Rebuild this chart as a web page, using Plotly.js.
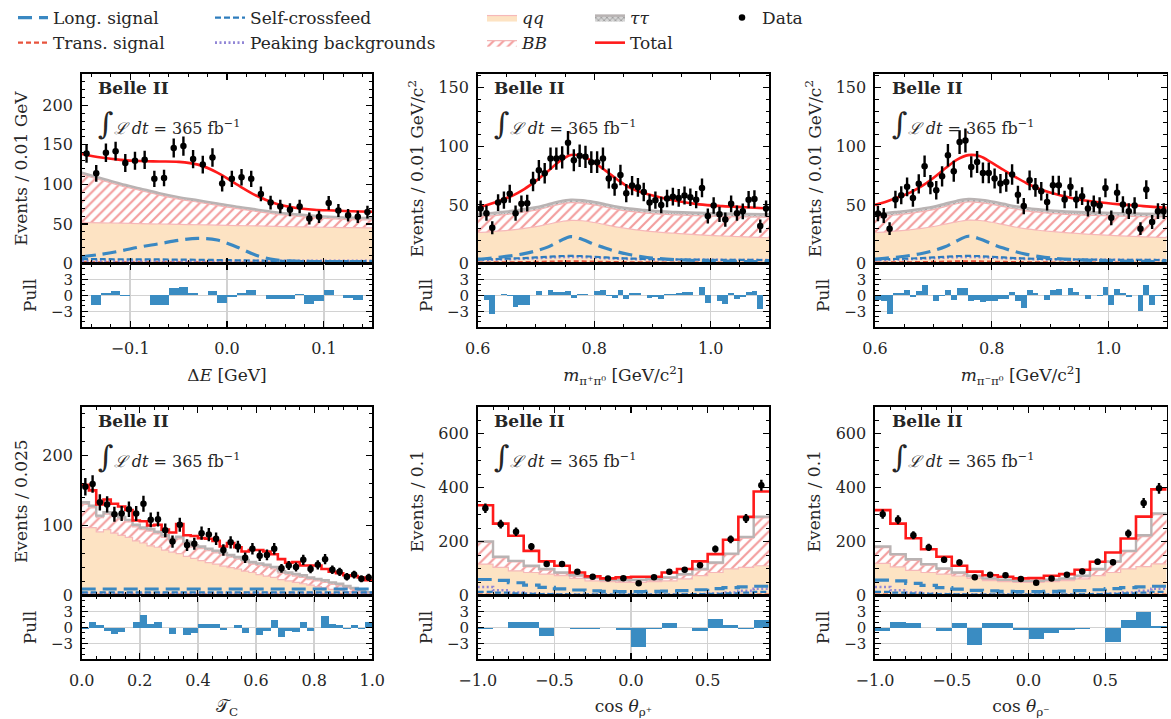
<!DOCTYPE html>
<html><head><meta charset="utf-8">
<script src="https://cdn.plot.ly/plotly-3.0.1.min.js"></script>
<style>body{margin:0;background:#fff}#chart{width:1171px;height:719px}</style>
</head><body><div id="chart"></div>
<script>
// ================= DATA =================
// Panel 1: Delta E (30 bins of 0.01 GeV)
const dE_centers = [-0.145,-0.135,-0.125,-0.115,-0.105,-0.095,-0.085,-0.075,-0.065,-0.055,-0.045,-0.035,-0.025,-0.015,-0.005,0.005,0.015,0.025,0.035,0.045,0.055,0.065,0.075,0.085,0.095,0.105,0.115,0.125,0.135,0.145];
const dE_data = [139,114,140,142,127,130,131,107,108,146,148.5,132,125,134,101,107,109,107,88,77,72,68,72,57,59,76.5,67,61,59,65];
const dE_pull = [0.05,-1.9,0.5,0.8,-0.2,0.05,0.15,-1.9,-1.9,1.4,1.6,0.5,0.0,0.9,-1.5,-0.3,0.45,0.95,0.0,-0.6,-0.75,-0.75,0.2,-1.7,-1.1,0.95,0.1,-0.5,-0.9,0.0];
const dE_curveX = [-0.15,-0.13,-0.11,-0.09,-0.07,-0.05,-0.03,-0.01,0.01,0.03,0.05,0.07,0.09,0.11,0.13,0.15];
const dE_total = [138.5,134,131,129.5,129,128.5,125,115,100,86,76,70.5,68,67,66,65.5];
const dE_ttTop = [115,108,101,95,89,84,80,76,72,68.5,65,62.5,60.5,59,58,57.5];
const dE_bbTop = [112.5,105.5,98.5,92.5,86.5,81.5,77.5,73.5,69.5,66,62.5,60,58,56.5,55.5,55];
const dE_qqTop = [52,51.5,51,50.5,50,49.5,49,48.5,48,47.5,47,46.5,46,45.7,45.3,45];
const dE_long = [8.4,11.7,15.9,21,25,29.3,31.8,29.7,21,10.5,4.6,3,2.6,2.5,2.5,2.5];
const dE_scf = [5.5,5.5,5.4,5.3,5.2,5,4.8,4.5,4.1,3.7,3.4,3.2,3.1,3,3,3];
const dE_peak = [3.6,3.6,3.6,3.6,3.6,3.6,3.5,3.5,3.5,3.5,3.4,3.4,3.4,3.4,3.4,3.4];
const dE_trans = [1.4,1.4,1.4,1.4,1.4,1.4,1.4,1.3,1.3,1.3,1.2,1.2,1.2,1.2,1.2,1.2];

// Panel 2: m(pi+ pi0) (50 bins of 0.01 GeV/c^2)
const mP_centers = [0.605,0.615,0.625,0.635,0.645,0.655,0.665,0.675,0.685,0.695,0.705,0.715,0.725,0.735,0.745,0.755,0.765,0.775,0.785,0.795,0.805,0.815,0.825,0.835,0.845,0.855,0.865,0.875,0.885,0.895,0.905,0.915,0.925,0.935,0.945,0.955,0.965,0.975,0.985,0.995,1.005,1.015,1.025,1.035,1.045,1.055,1.065,1.075,1.085,1.095];
const mP_data = [47,43,30.5,52,54,59.5,43,51,51.5,70,79.5,77,89.5,89.5,90.5,103,88,92,91,86.5,86.5,89.5,72.5,66,75.5,60,66.5,65,61,52,54,50,55.5,57,56,58,56.5,54.5,64.5,40.5,49.5,42,37.5,51,43,44.5,54.5,55,32,47];
const mP_pull = [-0.1,-0.9,-3.6,0.1,0.2,-0.1,-2.1,-1.9,-1.75,0.0,0.75,0.0,0.95,0.6,0.6,0.9,-0.5,0.2,0.2,0.0,0.75,1.1,-0.2,-0.5,0.95,-0.75,0.45,0.45,0.0,-0.5,-0.4,-0.75,0.2,0.3,0.45,0.55,0.55,0.0,1.5,-1.4,0.0,-1.1,-1.7,0.5,-0.75,-0.4,0.6,0.9,-2.5,0.0];
const m_curveX = [0.6,0.62,0.64,0.66,0.68,0.70,0.72,0.74,0.76,0.78,0.80,0.82,0.84,0.86,0.88,0.90,0.94,0.98,1.02,1.06,1.10];
const mP_total = [47.5,50.5,54,58,63.5,70.5,78.5,87,92.5,91.5,86,79,71.5,65,61,58,53.5,50.5,49,48,47];
const mP_ttTop = [42.5,43,44,45,46.5,48,50.5,53,54.5,54,52.5,50.5,48.5,47,46,45,44,43.3,42.7,42.3,42];
const mP_bbTop = [40,40.5,41.5,42.5,44,45.5,48,50.5,52,51.5,50,48,46,44.5,43.5,42.5,41.5,40.8,40.2,39.8,39.5];
const mP_qqTop = [26.5,27,27.8,28.8,30,31.5,33.5,35.5,36.8,36.5,35,33,31,29.5,28.3,27.3,25.8,24.5,23.5,22.7,22];
const mP_long = [3.7,4.5,5.5,6.8,8.5,10.8,14,19,23,20.5,16.4,13,10,7.7,6,4.7,3.3,2.5,2,1.7,1.5];
const mP_scf = [3.5,3.7,4,4.3,4.7,5.2,5.8,6.3,6.5,6.3,5.8,5.2,4.7,4.3,4,3.8,3.5,3.3,3.2,3.1,3];
const mP_peak = [3,3.2,3.5,3.8,4.2,4.6,5.1,5.5,5.7,5.5,5.1,4.6,4.2,3.9,3.7,3.5,3.3,3.2,3.1,3,3];
const mP_trans = [0.8,0.9,1,1.1,1.2,1.4,1.6,1.8,1.9,1.8,1.6,1.4,1.2,1.1,1,0.9,0.8,0.8,0.7,0.7,0.7];

// Panel 3: m(pi- pi0)
const mM_centers = mP_centers;
const mM_data = [42.7,41,29.7,54.6,58.3,65.4,56,68,83,67.4,62.5,74.4,92.3,78.7,103.6,105,82.4,86.6,77.3,77.3,72.5,68.2,69.6,75.9,58.6,49,71,65,61.7,52.4,66.8,66.8,54.6,65.4,54.6,57.5,47,51,49.5,64.5,39,60.3,50.4,44.7,49.5,29.7,63.1,35.4,44.7,44.7];
const mM_pull = [-0.9,-1.1,-3.6,0.45,0.45,1.1,-0.3,0.75,1.9,0.0,-1.0,-0.2,1.1,-0.8,1.4,1.4,-1.1,-0.9,-1.25,-1.1,-1.1,-0.75,-0.6,0.6,-1.1,-2.3,0.95,0.45,0.0,-0.8,0.95,1.25,0.0,1.4,0.6,0.0,-0.6,0.0,-0.1,1.55,-1.75,1.25,0.5,-0.4,0.0,-3.0,2.0,-1.9,-0.1,0.0];
const mM_total = [50,53,56.5,60.5,66,73,81,88.5,92.5,91.5,86,80,74,68.5,64,60.5,55.5,52.5,50.5,49,47.5];
const mM_ttTop = [42.7,43.2,44.2,45.3,46.8,48.5,51,53.5,55,54.5,53,51,49,47.5,46.3,45.3,44.2,43.5,43,42.5,42.2];
const mM_bbTop = [40.2,40.7,41.7,42.8,44.3,46,48.5,51,52.5,52,50.5,48.5,46.5,45,43.8,42.8,41.7,41,40.5,40,39.7];
const mM_qqTop = [26.5,27,27.8,28.8,30,31.6,33.6,35.6,37,36.7,35.2,33.2,31.2,29.6,28.4,27.4,25.9,24.6,23.6,22.8,22.1];
const mM_long = [3.8,4.6,5.6,6.9,8.6,11,14.3,19.3,23.3,21,16.8,13.2,10.2,7.8,6.1,4.8,3.4,2.6,2.1,1.8,1.6];
const mM_scf = [3.5,3.7,4,4.3,4.7,5.2,5.8,6.3,6.5,6.3,5.8,5.2,4.7,4.3,4,3.8,3.5,3.3,3.2,3.1,3];
const mM_peak = [3,3.2,3.5,3.8,4.2,4.6,5.1,5.5,5.7,5.5,5.1,4.6,4.2,3.9,3.7,3.5,3.3,3.2,3.1,3,3];
const mM_trans = [0.8,0.9,1,1.1,1.2,1.4,1.6,1.8,1.9,1.8,1.6,1.4,1.2,1.1,1,0.9,0.8,0.8,0.7,0.7,0.7];

// Panel 4: T_C (40 bins of 0.025)
const tC_edges = [0,0.025,0.05,0.075,0.1,0.125,0.15,0.175,0.2,0.225,0.25,0.275,0.3,0.325,0.35,0.375,0.4,0.425,0.45,0.475,0.5,0.525,0.55,0.575,0.6,0.625,0.65,0.675,0.7,0.725,0.75,0.775,0.8,0.825,0.85,0.875,0.9,0.925,0.95,0.975,1.0];
const tC_centers = [0.0125,0.0375,0.0625,0.0875,0.1125,0.1375,0.1625,0.1875,0.2125,0.2375,0.2625,0.2875,0.3125,0.3375,0.3625,0.3875,0.4125,0.4375,0.4625,0.4875,0.5125,0.5375,0.5625,0.5875,0.6125,0.6375,0.6625,0.6875,0.7125,0.7375,0.7625,0.7875,0.8125,0.8375,0.8625,0.8875,0.9125,0.9375,0.9625,0.9875];
const tC_data = [155,159,133,130,116,117,123,117,131,108,109,93,77,101,72,74,89,87,81,65,76,70,54,67,57,58,67,39,43,41,51,38,44,52,37,34,27,30,24,26];
const tC_pull = [-0.3,0.95,0.5,-0.6,-1.25,-0.8,0.0,0.95,2.3,0.75,0.95,0.0,-1.25,0.0,-1.45,-1.1,0.75,0.75,0.6,-0.4,0.0,0.45,-1.1,0.0,-1.4,-0.75,1.4,-1.75,-0.75,-0.9,1.1,-0.6,0.0,2.2,0.6,0.5,-0.2,0.45,-0.2,1.1];
const tC_total = [158,150,130,137,131,127,122,107,106,100,101,94,90,102,86,85,82,81,78,70,75,69,63,65,65,63,59,52,47,48,43,43,43,38,34,32,29,28,26,22];
const tC_ttTop = [133,128,114,119,116,112,108,101,97,95,91,86,81,84,77,72,70,67,64,61,58,55,51,48,46,44,41,35,33,31,29,26,24,22,19,17,14,11,8,5];
const tC_bbTop = [130,125,111,116,113,109,105,98,94,92,88,83,78,81,74,69,67,64,61,58,55,52,48,45,43,41,38,32,30,28,26,23,21,19,16,14,11,8.5,6,3.5];
const tC_qqTop = [97,97,91,94,89,86,83,78,75,71,69,65,62,60,56,53,50,47,45,42,40,38,35,33,30,28,26,23,21,19,17,15,13,11,9,8,6,5,4,3];
const tC_long = [9.5,9.5,9.5,9.5,9.5,9.5,9.5,9.5,9.5,9.5,9.5,9.5,9.5,9.5,9.5,9.5,9.5,9.5,9.5,9.5,9.5,9.5,9.5,9.5,9.5,9.5,9.5,9.5,9.5,9.5,9.5,9.5,9.5,9.5,9.5,9.5,9.5,9.5,9.5,9.5];
const tC_scf = [4.7,4.7,4.7,4.7,4.7,4.7,4.7,4.7,4.7,4.7,4.7,4.7,4.7,4.7,4.7,4.7,4.7,4.7,4.7,4.7,4.7,4.7,4.7,4.7,4.7,4.7,4.7,4.7,4.7,4.7,4.7,4.7,4.7,4.7,4.7,4.7,4.7,4.7,4.7,4.7];
const tC_peak = [3.8,3.8,3.8,3.8,3.8,3.8,3.8,3.8,3.8,3.8,3.8,3.8,3.8,3.8,3.8,3.8,3.8,3.8,3.8,3.8,3.8,3.8,3.8,3.8,3.8,3.8,3.8,3.8,3.8,3.8,3.8,3.8,3.8,3.8,3.8,3.8,3.8,3.8,3.8,3.8];
const tC_trans = [1.4,1.4,1.4,1.4,1.4,1.4,1.4,1.4,1.4,1.4,1.4,1.4,1.4,1.4,1.4,1.4,1.4,1.4,1.4,1.4,1.4,1.4,1.4,1.4,1.4,1.4,1.4,1.4,1.4,1.4,1.4,1.4,1.4,1.4,1.4,1.4,1.4,1.4,1.4,1.4];

// Panels 5/6: cos(theta) (19 bins of 0.1)
const cos_edges = [-1.0,-0.9,-0.8,-0.7,-0.6,-0.5,-0.4,-0.3,-0.2,-0.1,0.0,0.1,0.2,0.3,0.4,0.5,0.6,0.7,0.8,0.9];
const cos_centers = [-0.95,-0.85,-0.75,-0.65,-0.55,-0.45,-0.35,-0.25,-0.15,-0.05,0.05,0.15,0.25,0.35,0.45,0.55,0.65,0.75,0.85];
const cP_data = [324,265,237,182,117,117,89,70,64,65,46,68,89,96,113,173,209,286,409];
const cP_pull = [-0.2,-0.05,1.0,1.0,-1.6,0.0,-0.2,-0.3,0.0,-0.4,-3.75,-0.2,0.8,0.0,-0.65,1.6,0.5,-0.25,1.4];
const cP_total = [335,267,222,166,127,111,86,71.5,64,68,70,70,86,99,127,154,207,292,386];
const cP_ttTop = [201,144,129,111,99,86,76,66.5,59,58,59,61.6,68,80,99,123,156,218,293];
const cP_bbTop = [197,140,125,107,95,82,72,63,56,55,56,58,64,76,95,119,152,213,288];
const cP_qqTop = [117,105,92,86,80,74,64,55,52,49,49,52,55,62,74,86,99,105,111];
const cP_long = [60,57,48,39,31,25,21,18,16,15,15,16,17,19,22,26,30,33,35];
const cP_scf = [14,11,9,7,6,5,4.5,4,4,4,4,4,4.5,5,6,7,9,11,14];
const cP_peak = [32,20,12,8,6,5,4,4,4,4,4,4,4,5,6,8,12,18,26];
const cP_trans = [4,3.5,3,2.5,2,2,2,2,2,2,2,2,2,2,2,2.5,3,3.5,4];

const cM_data = [302,281,224,179,133,123,68,78,76,62,48,64,78,90,126,124,230,343,398];
const cM_pull = [-0.65,1.0,0.8,0.0,-0.65,0.8,-3.35,0.8,0.8,-0.4,-2.25,-1.0,-0.4,-0.25,0.0,-2.8,1.4,2.9,0.3];
const cM_total = [317,267,213,172,144,111,89,76,70,64,65,74,80,96,126,160,212,293,394];
const cM_ttTop = [182,154,135,117,101,86,74,64,59,55,55,59,64,74,99,127,166,224,305];
const cM_bbTop = [178,150,131,113,97,82,70,60,55,51,51,55,60,70,95,123,162,219,300];
const cM_qqTop = [120,107,94,86,80,73,64,56,52,49,49,52,56,62,74,86,99,108,118];
const cM_long = [58,55,46,38,30,24,20,18,16,15,15,16,17,19,22,26,30,33,35];
const cM_scf = [14,11,9,7,6,5,4.5,4,4,4,4,4,4.5,5,6,7,9,11,14];
const cM_peak = [32,20,12,8,6,5,4,4,4,4,4,4,4,5,6,8,12,18,26];
const cM_trans = [4,3.5,3,2.5,2,2,2,2,2,2,2,2,2,2,2,2.5,3,3.5,4];

const legendNames = {long:'Long. signal', trans:'Trans. signal', scf:'Self-crossfeed', peak:'Peaking backgrounds', qq:'<i>qq</i>', bb:'<i>BB</i>', tt:'<i>ττ</i>', total:'Total', data:'Data'};

// ================= STYLE / LAYOUT =================
const FONT = 'DejaVu Serif';
const W = 1171, H = 719;
const colPx = [[81.7,372.3],[477.7,769],[875,1166.7]];
const rowPx = [{main:[70,261], pull:[261,325]}, {main:[405,595], pull:[595,659]}];

const panels = [
  {kind:'smooth', cx:dE_curveX, qq:dE_qqTop, bb:dE_bbTop, tt:dE_ttTop, tot:dE_total, long:dE_long, trans:dE_trans, scf:dE_scf, peak:dE_peak, centers:dE_centers, data:dE_data, pull:dE_pull, bw:0.01,
   xr:[-0.15,0.15], xdt:0.1, xmin:0.02, yr:[0,240], ydt:50, ymin:10, xtitle:'Δ<i>E</i> [GeV]', ytitle:'Events / 0.01 GeV'},
  {kind:'smooth', cx:m_curveX, qq:mP_qqTop, bb:mP_bbTop, tt:mP_ttTop, tot:mP_total, long:mP_long, trans:mP_trans, scf:mP_scf, peak:mP_peak, centers:mP_centers, data:mP_data, pull:mP_pull, bw:0.01,
   xr:[0.6,1.1], xdt:0.2, xmin:0.05, yr:[0,162], ydt:50, ymin:10, xtitle:'<i>m</i><sub>π⁺π⁰</sub> [GeV/c<sup>2</sup>]', ytitle:'Events / 0.01 GeV/c<sup>2</sup>'},
  {kind:'smooth', cx:m_curveX, qq:mM_qqTop, bb:mM_bbTop, tt:mM_ttTop, tot:mM_total, long:mM_long, trans:mM_trans, scf:mM_scf, peak:mM_peak, centers:mM_centers, data:mM_data, pull:mM_pull, bw:0.01,
   xr:[0.6,1.1], xdt:0.2, xmin:0.05, yr:[0,162], ydt:50, ymin:10, xtitle:'<i>m</i><sub>π⁻π⁰</sub> [GeV/c<sup>2</sup>]', ytitle:'Events / 0.01 GeV/c<sup>2</sup>'},
  {kind:'step', cx:tC_edges, qq:tC_qqTop, bb:tC_bbTop, tt:tC_ttTop, tot:tC_total, long:tC_long, trans:tC_trans, scf:tC_scf, peak:tC_peak, centers:tC_centers, data:tC_data, pull:tC_pull, bw:0.025,
   xr:[0,1], xdt:0.2, xmin:0.05, yr:[0,269], ydt:100, ymin:20, xtitle:'𝒯<sub>C</sub>', ytitle:'Events / 0.025'},
  {kind:'step', cx:cos_edges, qq:cP_qqTop, bb:cP_bbTop, tt:cP_ttTop, tot:cP_total, long:cP_long, trans:cP_trans, scf:cP_scf, peak:cP_peak, centers:cos_centers, data:cP_data, pull:cP_pull, bw:0.1,
   xr:[-1,0.9], xdt:0.5, xmin:0.1, yr:[0,700], ydt:200, ymin:50, xtitle:'cos <i>θ</i><sub>ρ⁺</sub>', ytitle:'Events / 0.1'},
  {kind:'step', cx:cos_edges, qq:cM_qqTop, bb:cM_bbTop, tt:cM_ttTop, tot:cM_total, long:cM_long, trans:cM_trans, scf:cM_scf, peak:cM_peak, centers:cos_centers, data:cM_data, pull:cM_pull, bw:0.1,
   xr:[-1,0.9], xdt:0.5, xmin:0.1, yr:[0,700], ydt:200, ymin:50, xtitle:'cos <i>θ</i><sub>ρ⁻</sub>', ytitle:'Events / 0.1'}
];

const C = {
  qqFill:'#fde3c3', qqLine:'#f6b8b8', bbHatch:'#f39c9c', bbLine:'#f3b3b3', ttLine:'#b9b3b3',
  long:'#3a88c2', trans:'#e8533d', scf:'#2e7dbd', peak:'#9186d6', total:'#ff1a1a', pull:'#3a8cc2', grid:'#d2d2d2', text:'#262626'
};

const traces = [];
const layout = {
  width: W, height: H, margin:{l:0,r:0,t:0,b:0}, paper_bgcolor:'white', plot_bgcolor:'white',
  font:{family:FONT, size:16, color:C.text}, bargap:0, annotations:[], showlegend:true
};

function axName(n){ return n===1 ? '' : String(n); }
function stepY(v){ return v.concat([v[v.length-1]]); }

panels.forEach((p, i) => {
  const mainN = 2*i+1, pullN = 2*i+2;
  const xm = 'x'+axName(mainN), ym = 'y'+axName(mainN);
  const xp = 'x'+axName(pullN), yp = 'y'+axName(pullN);
  const leg = (i === 0);
  const shape = p.kind === 'smooth' ? 'spline' : 'hv';
  const cy = v => p.kind === 'smooth' ? v : stepY(v);
  const base = {x:p.cx, mode:'lines', xaxis:xm, yaxis:ym, hoverinfo:'skip'};

  traces.push(Object.assign({}, base, {y:cy(p.qq), name:legendNames.qq, legend:'legend3', showlegend:leg, legendrank:1,
    line:{color:C.qqLine, width:1.2, shape}, fill:'tozeroy', fillcolor:C.qqFill}));
  traces.push(Object.assign({}, base, {y:cy(p.bb), name:legendNames.bb, legend:'legend3', showlegend:leg, legendrank:2,
    line:{color:C.bbLine, width:1.2, shape}, fill:'tonexty', fillcolor:'white',
    fillpattern:{shape:'/', fgcolor:C.bbHatch, bgcolor:'white', size:7, solidity:0.3}}));
  traces.push(Object.assign({}, base, {y:cy(p.tt), name:legendNames.tt, legend:'legend4', showlegend:leg, legendrank:1,
    line:{color:C.ttLine, width:2.4, shape}, fill:'tonexty', fillcolor:'#cfcfcf',
    fillpattern:{shape:'x', fgcolor:'#8a8a8a', bgcolor:'#d4d4d4', size:4, solidity:0.3}}));
  traces.push(Object.assign({}, base, {y:cy(p.trans), name:legendNames.trans, legend:'legend', showlegend:leg, legendrank:2,
    line:{color:C.trans, width:2.2, dash:'5px,3px', shape}}));
  traces.push(Object.assign({}, base, {y:cy(p.peak), name:legendNames.peak, legend:'legend2', showlegend:leg, legendrank:2,
    line:{color:C.peak, width:2.6, dash:'2px,2.5px', shape}}));
  traces.push(Object.assign({}, base, {y:cy(p.scf), name:legendNames.scf, legend:'legend2', showlegend:leg, legendrank:1,
    line:{color:C.scf, width:2.2, dash:'6px,3px', shape}}));
  traces.push(Object.assign({}, base, {y:cy(p.long), name:legendNames.long, legend:'legend', showlegend:leg, legendrank:1,
    line:{color:C.long, width:3.2, dash:'14px,7px', shape}}));
  traces.push(Object.assign({}, base, {y:cy(p.tot), name:legendNames.total, legend:'legend4', showlegend:leg, legendrank:2,
    line:{color:C.total, width:2.6, shape}}));
  traces.push({x:p.centers, y:p.data, type:'scatter', mode:'markers', xaxis:xm, yaxis:ym, name:legendNames.data,
    legend:'legend5', showlegend:leg, hoverinfo:'skip',
    marker:{color:'black', size:6.5}, error_y:{type:'sqrt', color:'black', thickness:2.4, width:0}});
  traces.push({x:p.centers, y:p.pull, type:'bar', width:p.bw, xaxis:xp, yaxis:yp, showlegend:false, hoverinfo:'skip',
    marker:{color:C.pull, line:{width:0}}});

  const col = colPx[i%3], row = rowPx[Math.floor(i/3)];
  const xdom = [col[0]/W, col[1]/W];
  const common = {showline:true, linecolor:'black', linewidth:1.6, mirror:'allticks', ticks:'inside', ticklen:6, tickwidth:1.1,
    tickcolor:'black', zeroline:false, tickfont:{family:FONT, size:16, color:C.text}};
  const minorX = {ticks:'inside', ticklen:3.5, tickwidth:1, tickcolor:'black', tick0:0, dtick:p.xmin, showgrid:false};

  layout['xaxis'+axName(mainN)] = Object.assign({}, common, {domain:xdom, anchor:ym, range:p.xr, tick0:0, dtick:p.xdt,
    showticklabels:false, showgrid:false, minor:minorX});
  layout['yaxis'+axName(mainN)] = Object.assign({}, common, {domain:[1-row.main[1]/H, 1-row.main[0]/H], anchor:xm, range:p.yr,
    tick0:0, dtick:p.ydt, showgrid:false, ticklabelstandoff:4,
    minor:{ticks:'inside', ticklen:3.5, tickwidth:1, tickcolor:'black', tick0:0, dtick:p.ymin, showgrid:false},
    title:{text:p.ytitle, font:{family:FONT, size:17, color:C.text}, standoff:10}});
  layout['xaxis'+axName(pullN)] = Object.assign({}, common, {domain:xdom, anchor:yp, range:p.xr, tick0:0, dtick:p.xdt,
    tickformat:'.1f', showgrid:true, gridcolor:C.grid, gridwidth:1.4, minor:minorX, ticklabelstandoff:6,
    title:{text:p.xtitle, font:{family:FONT, size:17, color:C.text}, standoff:12}});
  layout['yaxis'+axName(pullN)] = Object.assign({}, common, {domain:[1-row.pull[1]/H, 1-row.pull[0]/H], anchor:xp, range:[-6,6],
    tickmode:'array', tickvals:[-3,0,3], ticktext:['−3','0','3'], showgrid:true, gridcolor:C.grid, gridwidth:1.4, ticklabelstandoff:4,
    tickfont:{family:FONT, size:15, color:C.text},
    minor:{ticks:'inside', ticklen:3.5, tickwidth:1, tickcolor:'black', tickmode:'linear', tick0:0, dtick:1, showgrid:false},
    title:{text:'Pull', font:{family:FONT, size:17, color:C.text}, standoff:10}});

  layout.annotations.push({xref:xm+' domain', yref:ym+' domain', x:0.05, y:0.925, xanchor:'left', yanchor:'middle',
    text:'<b>Belle II</b>', showarrow:false, font:{family:FONT, size:17, color:C.text}});
  layout.annotations.push({xref:xm+' domain', yref:ym+' domain', x:0.05, y:0.735, xanchor:'left', yanchor:'middle',
    text:'<span style="font-size:30px">∫</span><i>ℒ dt</i> = 365 fb<sup>−1</sup>', showarrow:false, font:{family:FONT, size:16, color:C.text}});
});

const legBase = {y:1.006, yanchor:'top', xanchor:'left', orientation:'v', bgcolor:'rgba(0,0,0,0)', borderwidth:0,
  font:{family:FONT, size:17, color:C.text}, itemwidth:30, traceorder:'normal'};
layout.legend  = Object.assign({}, legBase, {x:13/W});
layout.legend2 = Object.assign({}, legBase, {x:210/W});
layout.legend3 = Object.assign({}, legBase, {x:482/W});
layout.legend4 = Object.assign({}, legBase, {x:590/W});
layout.legend5 = Object.assign({}, legBase, {x:722/W});

Plotly.newPlot('chart', traces, layout, {staticPlot:true, displayModeBar:false});
</script></body></html>
